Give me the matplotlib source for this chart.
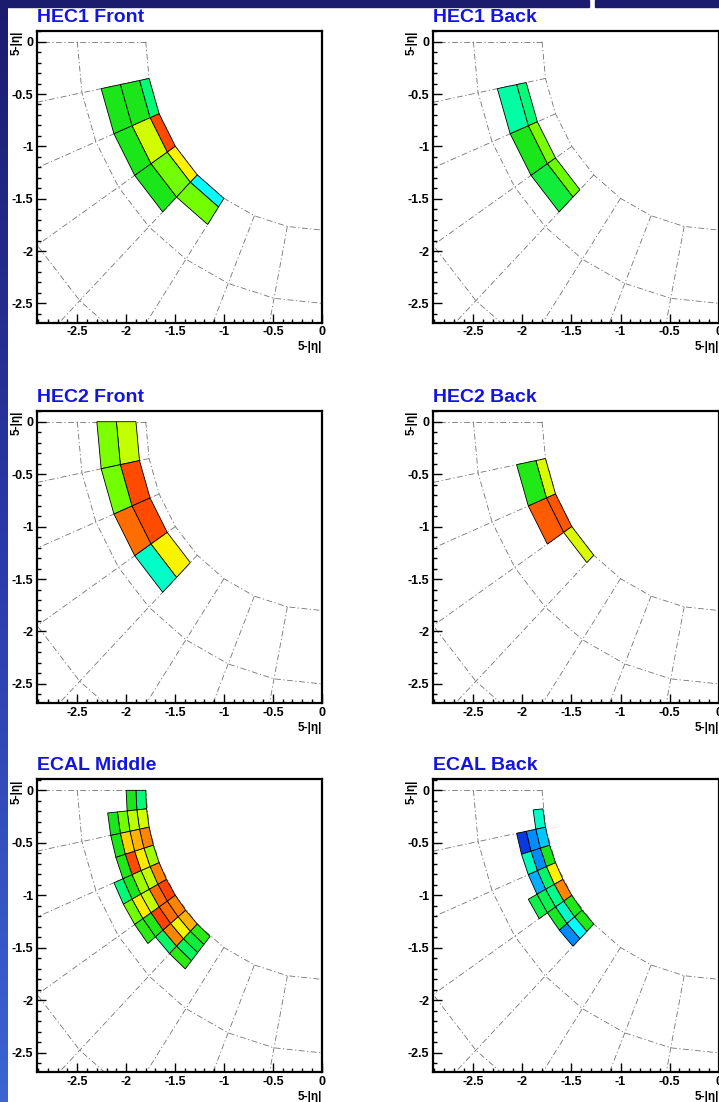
import numpy as np
import matplotlib.pyplot as plt
from matplotlib.colors import LinearSegmentedColormap
from matplotlib.patches import Polygon, Rectangle

plt.rcParams['font.family'] = ['Liberation Sans', 'DejaVu Sans']

nan = float('nan')

titles = ['HEC1 Front', 'HEC1 Back', 'HEC2 Front', 'HEC2 Back', 'ECAL Middle', 'ECAL Back']

# radial bin edges (5-|eta|) of each layer, inner to outer
hec1_front_r = [1.8, 1.9, 2.1, 2.3]
hec1_back_r = [2.0, 2.1, 2.3]
hec2_front_r = [1.9, 2.1, 2.3]
hec2_back_r = [1.8, 1.9, 2.1]
ecal_middle_r = [1.8, 1.9, 2.0, 2.1, 2.2, 2.3]
ecal_back_r = [1.8, 1.9, 2.0, 2.1, 2.2]

# phi bin width (degrees)
hec_dphi = 11.25
ecal_dphi = 5.625

# cell energies (relative), one row per phi bin from phi=0, columns inner -> outer
hec1_front_val = [
    [nan, nan, nan],
    [0.37, 0.45, 0.45],
    [0.96, 0.66, 0.45],
    [0.72, 0.55, 0.45],
    [0.25, 0.55, nan],
]
hec1_back_val = [
    [nan, nan],
    [0.37, 0.33],
    [0.56, 0.45],
    [0.54, 0.42],
]
hec2_front_val = [
    [0.64, 0.56],
    [0.96, 0.55],
    [0.96, 0.90],
    [0.71, 0.30],
]
hec2_back_val = [
    [nan, nan],
    [0.67, 0.46],
    [0.94, 0.93],
    [0.67, nan],
]
ecal_middle_val = [
    [0.37, 0.45, nan, nan, nan],
    [0.66, 0.63, 0.55, 0.45, nan],
    [0.86, 0.80, 0.76, 0.45, nan],
    [0.60, 0.73, 0.96, 0.46, nan],
    [0.86, 0.64, 0.60, 0.45, 0.37],
    [0.97, 0.90, 0.64, 0.73, 0.55],
    [0.86, 0.90, 0.97, 0.46, 0.47],
    [0.80, 0.70, 0.86, 0.38, nan],
    [0.47, 0.42, 0.39, 0.47, nan],
]
ecal_back_val = [
    [nan, nan, nan, nan],
    [0.30, nan, nan, nan],
    [0.20, 0.15, 0.03, nan],
    [0.45, 0.15, 0.31, nan],
    [0.72, 0.38, 0.18, nan],
    [0.86, 0.35, 0.40, 0.41],
    [0.46, 0.30, 0.44, nan],
    [0.46, 0.25, 0.15, nan],
]

x_ticks = [-2.5, -2, -1.5, -1, -0.5, 0]
x_tick_labels = ['-2.5', '-2', '-1.5', '-1', '-0.5', '0']
y_ticks = [0, -0.5, -1, -1.5, -2, -2.5]
y_tick_labels = ['0', '-0.5', '-1', '-1.5', '-2', '-2.5']

grid_radii = [1.8, 2.5, 3.5]
grid_step = 11.25

# ROOT-like rainbow palette
cmap = LinearSegmentedColormap.from_list('root', [
    (0.00, (0.05, 0.15, 0.85)),
    (0.15, (0.0, 0.55, 1.0)),
    (0.25, (0.0, 1.0, 1.0)),
    (0.35, (0.0, 1.0, 0.55)),
    (0.45, (0.1, 0.9, 0.1)),
    (0.55, (0.45, 1.0, 0.0)),
    (0.65, (0.8, 1.0, 0.0)),
    (0.72, (1.0, 0.95, 0.0)),
    (0.85, (1.0, 0.55, 0.0)),
    (1.00, (1.0, 0.2, 0.0)),
])

W, H = 719, 1102


def draw_grid(ax):
    ang = np.radians(np.arange(0, 90.01, grid_step))
    style = dict(color='0.45', lw=0.6, ls=(0, (7, 3, 1.5, 3)), zorder=1)
    for a in ang:
        ax.plot([-1.8 * np.cos(a), -4.5 * np.cos(a)],
                [-1.8 * np.sin(a), -4.5 * np.sin(a)], **style)
    for R in grid_radii:
        ax.plot(-R * np.cos(ang), -R * np.sin(ang), **style)


def draw_cells(ax, r_edges, dphi, values):
    for k, row in enumerate(values):
        for c, v in enumerate(row):
            if np.isnan(v):
                continue
            r0, r1 = r_edges[c], r_edges[c + 1]
            p0, p1 = np.radians(k * dphi), np.radians((k + 1) * dphi)
            corners = [(r0, p0), (r1, p0), (r1, p1), (r0, p1)]
            pts = [(-r * np.cos(p), -r * np.sin(p)) for r, p in corners]
            ax.add_patch(Polygon(pts, closed=True, facecolor=cmap(v),
                                 edgecolor='black', lw=0.6, zorder=3))


def style_axes(ax):
    ax.set_xlim(-2.915, 0)
    ax.set_ylim(-2.685, 0.105)
    ax.set_xticks(x_ticks)
    ax.set_xticklabels(x_tick_labels)
    ax.set_yticks(y_ticks)
    ax.set_yticklabels(y_tick_labels)
    ax.set_xticks(np.arange(-2.9, 0.001, 0.1), minor=True)
    ax.set_yticks(np.arange(-2.6, 0.101, 0.1), minor=True)
    ax.tick_params(which='both', direction='in', top=False, right=False,
                   labelsize=9, pad=2.5, width=1.0)
    ax.tick_params(which='major', length=6.5)
    ax.tick_params(which='minor', length=3.2)
    for lab in ax.get_xticklabels() + ax.get_yticklabels():
        lab.set_fontweight('bold')
    for sp in ax.spines.values():
        sp.set_linewidth(1.6)
    ax.text(1.0, -0.105, '5-|η|', transform=ax.transAxes, ha='right',
            va='bottom', fontsize=8.5, fontweight='bold')
    ax.text(-0.072, 1.0, '5-|η|', transform=ax.transAxes, ha='center',
            va='top', rotation=90, fontsize=8.5, fontweight='bold')


def main():
    fig = plt.figure(figsize=(W / 100, H / 100), dpi=100)
    fig.patch.set_facecolor('white')

    # navy frame strips of the slide
    strip = fig.add_axes([0, 0, 7.3 / W, 1])
    grad = np.linspace(0, 1, 256).reshape(-1, 1)
    strip_cmap = LinearSegmentedColormap.from_list('strip', ['#1c1c6e', '#2a3aa8', '#3c64d2'])
    strip.imshow(grad, aspect='auto', cmap=strip_cmap, origin='upper')
    strip.axis('off')
    fig.patches.append(Rectangle((0, 1 - 7.3 / H), 589 / W, 7.3 / H,
                                 transform=fig.transFigure, color='#1c1c6e'))
    fig.patches.append(Rectangle((595 / W, 1 - 7.3 / H), 1 - 595 / W, 7.3 / H,
                                 transform=fig.transFigure, color='#1c1c6e'))

    col_left = [36.7, 432.7]
    col_right = [321.7, 718.6]
    row_top = [30.7, 410.7, 779.3]
    row_bottom = [322.7, 703.3, 1072.3]

    layers = [
        (hec1_front_r, hec_dphi, hec1_front_val),
        (hec1_back_r, hec_dphi, hec1_back_val),
        (hec2_front_r, hec_dphi, hec2_front_val),
        (hec2_back_r, hec_dphi, hec2_back_val),
        (ecal_middle_r, ecal_dphi, ecal_middle_val),
        (ecal_back_r, ecal_dphi, ecal_back_val),
    ]

    for i, (r_edges, dphi, values) in enumerate(layers):
        row, col = divmod(i, 2)
        l, r = col_left[col], col_right[col]
        t, b = row_top[row], row_bottom[row]
        ax = fig.add_axes([l / W, 1 - b / H, (r - l) / W, (b - t) / H])
        draw_grid(ax)
        draw_cells(ax, r_edges, dphi, values)
        style_axes(ax)
        fig.text((l + 0.3) / W, 1 - (t - 9.2) / H, titles[i], color='#1414e0',
                 fontsize=14, fontweight='bold', ha='left', va='baseline')

    fig.savefig('out.png', dpi=100)


if __name__ == "__main__":
    main()
